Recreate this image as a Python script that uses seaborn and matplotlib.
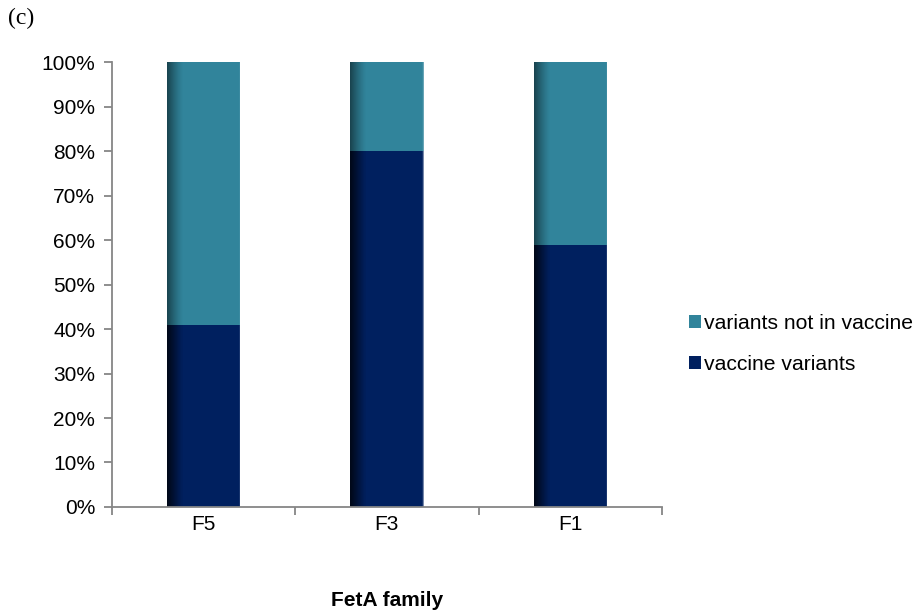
import numpy as np
import pandas as pd
import matplotlib
matplotlib.use("Agg")
import matplotlib.pyplot as plt
from matplotlib.patches import Patch
from matplotlib.ticker import FixedLocator, PercentFormatter
import seaborn as sns

# FetA family composition (percent of isolates)
families = ["F5", "F3", "F1"]
vaccine_variants = [41, 80, 59]
not_in_vaccine = [59, 20, 41]

navy = "#00205F"
teal = "#31849B"
axis_grey = "#868686"

sns.set_theme(style="white")
plt.rcParams["font.family"] = ["Liberation Sans", "DejaVu Sans"]
plt.rcParams["text.color"] = "black"
plt.rcParams["axes.labelcolor"] = "black"

df = pd.DataFrame({
    "family": families,
    "vaccine": vaccine_variants,
    "total": np.add(vaccine_variants, not_in_vaccine),
})

fig = plt.figure(figsize=(9.18, 6.16), dpi=100)
ax = fig.add_axes([0.122, 0.177, 0.599, 0.722])

# stacked 100% bars: full height in teal, vaccine share in navy on top of it
sns.barplot(data=df, x="family", y="total", color=teal, saturation=1,
            width=0.4, ax=ax, linewidth=0)
sns.barplot(data=df, x="family", y="vaccine", color=navy, saturation=1,
            width=0.4, ax=ax, linewidth=0)

# shaded left edge and a faint highlight on the right edge of each bar
xs = np.linspace(0, 1, 200)
shade = np.where(xs < 0.22, 0.5 * (1 - xs / 0.22) ** 1.3, 0.0)
grad = np.zeros((1, len(xs), 4))
grad[..., 3] = shade
hi = np.zeros((1, len(xs), 4))
hi[..., :3] = 1.0
hi[..., 3] = np.where(xs > 0.985, 0.3, 0.0)
for p in list(ax.patches):
    x0, y0 = p.get_x(), p.get_y()
    w, h = p.get_width(), p.get_height()
    if h <= 0:
        continue
    for img in (grad, hi):
        im = ax.imshow(img, extent=(x0, x0 + w, y0, y0 + h), aspect="auto",
                       interpolation="bilinear", zorder=p.get_zorder() + 0.5)
        im.set_clip_path(p)

ax.set_xlim(-0.5, 2.5)
ax.set_ylim(0, 100)
ax.set_yticks(np.arange(0, 101, 10))
ax.yaxis.set_major_formatter(PercentFormatter(decimals=0))

# category boundaries carry the x tick marks
ax.xaxis.set_minor_locator(FixedLocator([-0.5, 0.5, 1.5, 2.5]))
ax.tick_params(axis="x", which="major", length=0, pad=6, labelsize=15,
               colors="black")
ax.tick_params(axis="x", which="minor", length=6, width=1.3, color=axis_grey,
               direction="out", bottom=True)
ax.tick_params(axis="y", length=6, width=1.3, color=axis_grey, direction="out",
               left=True, labelsize=15, labelcolor="black", pad=6)

for s in ("top", "right"):
    ax.spines[s].set_visible(False)
for s in ("left", "bottom"):
    ax.spines[s].set_color(axis_grey)
    ax.spines[s].set_linewidth(1.3)

ax.set_ylabel("")
ax.set_xlabel("FetA family", fontsize=15, fontweight="bold")
ax.xaxis.set_label_coords(0.5, -0.211)
ax.xaxis.label.set_va("center")

handles = [Patch(facecolor=teal, edgecolor="none", label="variants not in vaccine"),
           Patch(facecolor=navy, edgecolor="none", label="vaccine variants")]
fig.legend(handles=handles, loc="center left", bbox_to_anchor=(0.751, 0.442),
           frameon=False, fontsize=15.2, handlelength=0.55, handleheight=0.55,
           handletextpad=0.12, labelspacing=1.05, borderaxespad=0,
           borderpad=0)

fig.text(0.009, 0.97, "(c)", fontsize=17, family=["Liberation Serif", "DejaVu Serif"],
         va="center", ha="left")

fig.savefig("out.png", dpi=100)
